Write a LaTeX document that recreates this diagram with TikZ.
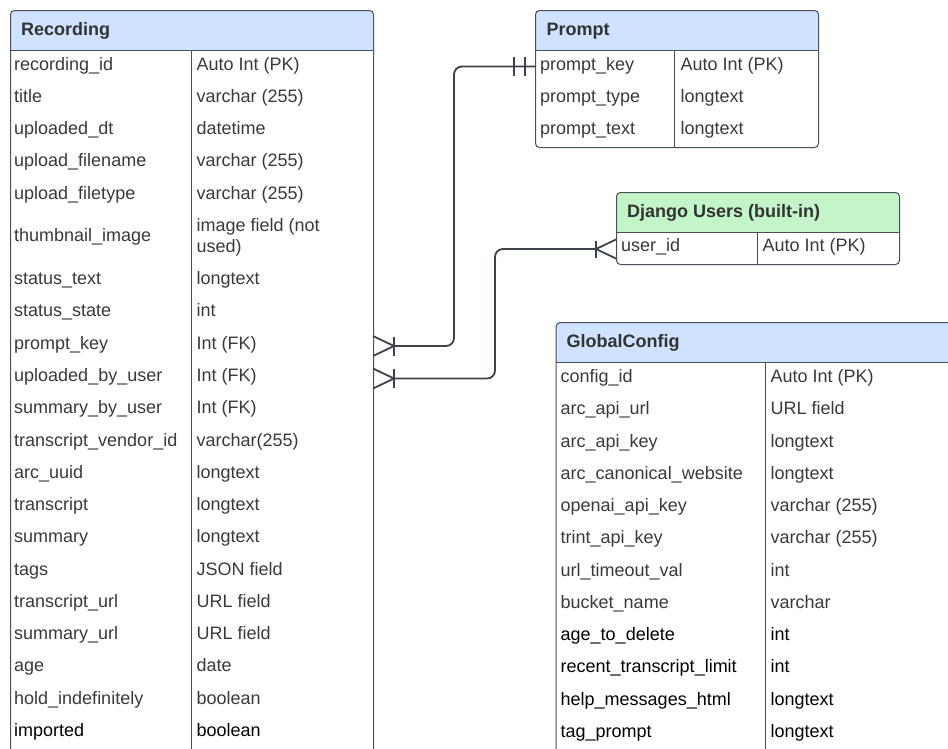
\documentclass[tikz,border=0pt]{standalone}
\usepackage{fontspec}
\setmainfont{Liberation Sans}
\definecolor{hdrblue}{HTML}{CFE2FF}
\definecolor{hdrgreen}{HTML}{C3F5C9}
\definecolor{framecol}{HTML}{4A5058}
\definecolor{wire}{HTML}{3D434B}
\definecolor{txtgray}{HTML}{3A3A3A}
\tikzset{
  erdtext/.style={anchor=base west, inner sep=0pt, font=\fontsize{18}{21.3}\selectfont, text=txtgray},
  erdblack/.style={erdtext, text=black},
  erdhead/.style={anchor=base west, inner sep=0pt, font=\fontsize{18}{21.3}\selectfont\bfseries, text=black!80},
  frameline/.style={draw=framecol, line width=1pt},
  tableframe/.style={frameline, rounded corners=4pt, anchor=north west, inner sep=0pt},
  wireline/.style={draw=wire, line width=1.8pt, rounded corners=8pt},
  footline/.style={draw=wire, line width=1.8pt},
}
\begin{document}
\begin{tikzpicture}[x=1pt,y=-1pt]
\useasboundingbox (0,0) rectangle (948,748);
\clip (0,0) rectangle (948,748);
\fill[white] (0,0) rectangle (948,748);

% ---------- Recording ----------
\fill[hdrblue] (10,50) [rounded corners=4pt] -- (10,10) -- (373,10) [sharp corners] -- (373,50) -- cycle;
\node[tableframe, minimum width=363pt, minimum height=800pt] (rec) at (10,10) {};
\draw[frameline] (10,50) -- (373,50);
\draw[frameline] (191.3,50) -- (191.3,760);
\node[erdhead] (rec-h) at (21,35) {Recording};
\foreach \n/\t [count=\i] in {recording\_id/Auto Int (PK), title/varchar (255), uploaded\_dt/datetime, upload\_filename/varchar (255), upload\_filetype/varchar (255)}{
  \node[erdtext] (rec-a\i) at (14,{70+32.27*(\i-1)}) {\n};
  \node[erdtext] (rec-b\i) at (196.5,{70+32.27*(\i-1)}) {\t};
}
\node[erdtext] (rec-thumb) at (14,241.9) {thumbnail\_image};
\node[erdtext] (rec-thumbA) at (196.5,231.4) {image field (not};
\node[erdtext] (rec-thumbB) at (196.5,252.7) {used)};
\foreach \n/\t [count=\i] in {status\_text/longtext, status\_state/int, prompt\_key/Int (FK), uploaded\_by\_user/Int (FK), summary\_by\_user/Int (FK), transcript\_vendor\_id/varchar(255), arc\_uuid/longtext, transcript/longtext, summary/longtext, tags/JSON field, transcript\_url/URL field, summary\_url/URL field, age/date, hold\_indefinitely/boolean}{
  \node[erdtext] (rec-c\i) at (14,{284.7+32.27*(\i-1)}) {\n};
  \node[erdtext] (rec-d\i) at (196.5,{284.7+32.27*(\i-1)}) {\t};
}
\node[erdblack] (rec-imp) at (14,736.5) {imported};
\node[erdblack] (rec-impt) at (196.5,736.5) {boolean};

% ---------- Prompt ----------
\fill[hdrblue] (535,50) [rounded corners=4pt] -- (535,10) -- (818,10) [sharp corners] -- (818,50) -- cycle;
\node[tableframe, minimum width=283pt, minimum height=137pt] (prm) at (535,10) {};
\draw[frameline] (535,50) -- (818,50);
\draw[frameline] (674.3,50) -- (674.3,147);
\node[erdhead] (prm-h) at (546.5,35) {Prompt};
\foreach \n/\t [count=\i] in {prompt\_key/Auto Int (PK), prompt\_type/longtext, prompt\_text/longtext}{
  \node[erdtext] (prm-a\i) at (540,{70.2+32.2*(\i-1)}) {\n};
  \node[erdtext] (prm-b\i) at (680.5,{70.2+32.2*(\i-1)}) {\t};
}

% ---------- Django Users ----------
\fill[hdrgreen] (616,232) [rounded corners=4pt] -- (616,192) -- (899,192) [sharp corners] -- (899,232) -- cycle;
\node[tableframe, minimum width=283pt, minimum height=72pt] (usr) at (616,192) {};
\draw[frameline] (616,232) -- (899,232);
\draw[frameline] (757.7,232) -- (757.7,264);
\node[erdhead] (usr-h) at (627,217) {Django Users (built-in)};
\node[erdtext] (usr-a1) at (621,251.7) {user\_id};
\node[erdtext] (usr-b1) at (762.5,251.7) {Auto Int (PK)};

% ---------- GlobalConfig ----------
\fill[hdrblue] (555.7,362) [rounded corners=4pt] -- (555.7,322) -- (1000,322) [sharp corners] -- (1000,362) -- cycle;
\node[tableframe, minimum width=450pt, minimum height=450pt] (cfg) at (555.7,322) {};
\draw[frameline] (555.7,362) -- (960,362);
\draw[frameline] (765.7,362) -- (765.7,760);
\node[erdhead] (cfg-h) at (566.5,347) {GlobalConfig};
\foreach \n/\t [count=\i] in {config\_id/Auto Int (PK), arc\_api\_url/URL field, arc\_api\_key/longtext, arc\_canonical\_website/longtext, openai\_api\_key/varchar (255), trint\_api\_key/varchar (255), url\_timeout\_val/int, bucket\_name/varchar}{
  \node[erdtext] (cfg-a\i) at (560.5,{382.5+32.27*(\i-1)}) {\n};
  \node[erdtext] (cfg-b\i) at (770.5,{382.5+32.27*(\i-1)}) {\t};
}
\foreach \n/\t [count=\i from 9] in {age\_to\_delete/int, recent\_transcript\_limit/int, help\_messages\_html/longtext, tag\_prompt/longtext}{
  \node[erdblack] (cfg-a\i) at (560.5,{382.5+32.27*(\i-1)}) {\n};
  \node[erdblack] (cfg-b\i) at (770.5,{382.5+32.27*(\i-1)}) {\t};
}

% ---------- relationship ends ----------
\coordinate (recP) at (373,346);
\coordinate (recU) at (373,378.5);
\coordinate (prmK) at (535,66.5);
\coordinate (usrK) at (616,249);

% prompt_key: many (Recording) to exactly one (Prompt)
\draw[wireline] ([shift={(21,0)}]recP) -- (454,346) -- (454,66.5) -- (prmK);
\draw[footline] ([shift={(0,-10)}]recP) -- ([shift={(21,0)}]recP) -- ([shift={(0,10)}]recP);
\draw[footline] ([shift={(21,-9.5)}]recP) -- ([shift={(21,9.5)}]recP);
\draw[footline] ([shift={(-21,-9.5)}]prmK) -- ([shift={(-21,9.5)}]prmK);
\draw[footline] ([shift={(-10,-9.5)}]prmK) -- ([shift={(-10,9.5)}]prmK);

% uploaded_by_user: many (Recording) to many (Django Users)
\draw[wireline] ([shift={(21,0)}]recU) -- (495,378.5) -- (495,249) -- ([shift={(-20,0)}]usrK);
\draw[footline] ([shift={(0,-10)}]recU) -- ([shift={(21,0)}]recU) -- ([shift={(0,10)}]recU);
\draw[footline] ([shift={(21,-9.5)}]recU) -- ([shift={(21,9.5)}]recU);
\draw[footline] ([shift={(0,-9.5)}]usrK) -- ([shift={(-20,0)}]usrK) -- ([shift={(0,9.5)}]usrK);
\draw[footline] ([shift={(-20,-8.5)}]usrK) -- ([shift={(-20,8.5)}]usrK);
\end{tikzpicture}
\end{document}
